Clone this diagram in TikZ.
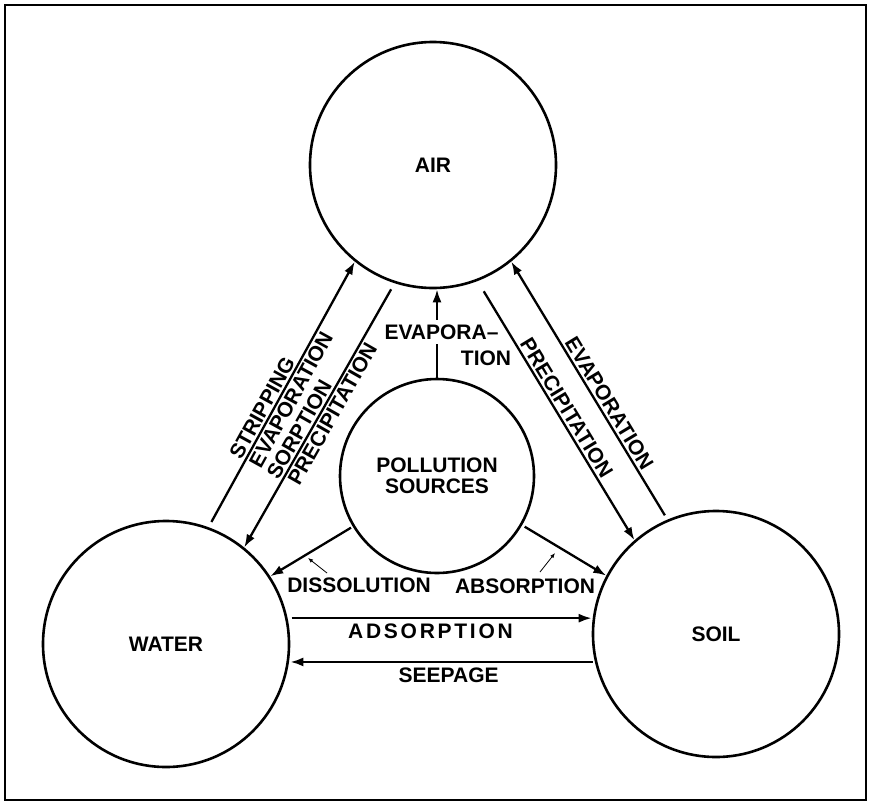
\documentclass[tikz,border=0pt]{standalone}
\usepackage{fontspec}
\setmainfont{Liberation Sans}
\usetikzlibrary{shapes.geometric, arrows.meta}
\tikzstyle{medium} = [
    circle,
    draw=black,
    line width=2.6pt,
    minimum size=246pt,
    inner sep=0pt,
    font=\fontsize{21}{21.5}\selectfont\bfseries
]
\tikzstyle{source} = [
    medium,
    minimum size=194pt,
    align=center
]
\tikzstyle{lbl} = [
    font=\fontsize{21}{22}\selectfont\bfseries,
    inner sep=2pt
]
\tikzstyle{arrow} = [line width=2.3pt,->,>={Latex[length=13pt,width=9pt]}]
\tikzstyle{pointer} = [line width=0.8pt,->,>={Latex[length=5pt,width=4pt]}]

\begin{document}
\begin{tikzpicture}[x=1pt, y=-1pt]

\useasboundingbox (0,0) rectangle (869,803);
\draw [line width=1.2pt] (5,5) rectangle (866,800);

\node (air) [medium] at (433,165) {AIR};

\node (water) [medium] at (166,644) {WATER};

\node (soil) [medium] at (716,634) {SOIL};

\node (pol) [source] at (437,476) {POLLUTION\\SOURCES};

\node (dissol) [lbl] at (359,585) {DISSOLUTION};
\node (absorp) [lbl] at (525,586) {ABSORPTION};
\node (tion) [lbl] at (486,358) {TION};

\coordinate (dissoltail) at (327,573);
\coordinate (dissoltip) at (308,558);
\coordinate (absorptail) at (540,572);
\coordinate (absorptip) at (555,553);

% water <-> air
\draw [arrow, shorten <=6pt] (water.70)
    -- node[lbl, sloped, above, pos=0.43]{STRIPPING}
       node[lbl, sloped, below, pos=0.5]{EVAPORATION} (air.231);
\draw [arrow, shorten <=7pt] (air.252)
    -- node[lbl, sloped, above, pos=0.573]{SORPTION}
       node[lbl, sloped, below, pos=0.475]{PRECIPITATION} (water.51);

% soil <-> air
\draw [arrow, shorten <=12pt] (air.291.5)
    -- node[lbl, sloped, above, pos=0.51]{PRECIPITATION} (soil.131.4);
\draw [arrow, shorten <=5pt] (soil.113.6)
    -- node[lbl, sloped, above, pos=0.43]{EVAPORATION} (air.309);

% sources
\draw [arrow] (pol.north)
    -- node[lbl, fill=white, inner xsep=1pt, inner ysep=5pt, pos=0.517, xshift=4.5pt]{EVAPORA\textendash} (pol.north |- air.south);
\draw [arrow, shorten <=2pt] (pol.211.5) -- (water.33.3);
\draw [arrow, shorten <=3pt] (pol.330) -- (soil.152.2);

% water <-> soil
\draw [arrow, shorten <=4pt] (water.12)
    -- node[lbl, below=3pt, pos=0.47]{\addfontfeature{LetterSpace=13}ADSORPTION} (water.12 -| soil.west);
\draw [arrow, shorten <=2pt] (soil.193)
    -- node[lbl, below=3pt, pos=0.48]{SEEPAGE} (soil.193 -| water.east);

\draw [pointer] (dissoltail) -- (dissoltip);
\draw [pointer] (absorptail) -- (absorptip);

\end{tikzpicture}
\end{document}
